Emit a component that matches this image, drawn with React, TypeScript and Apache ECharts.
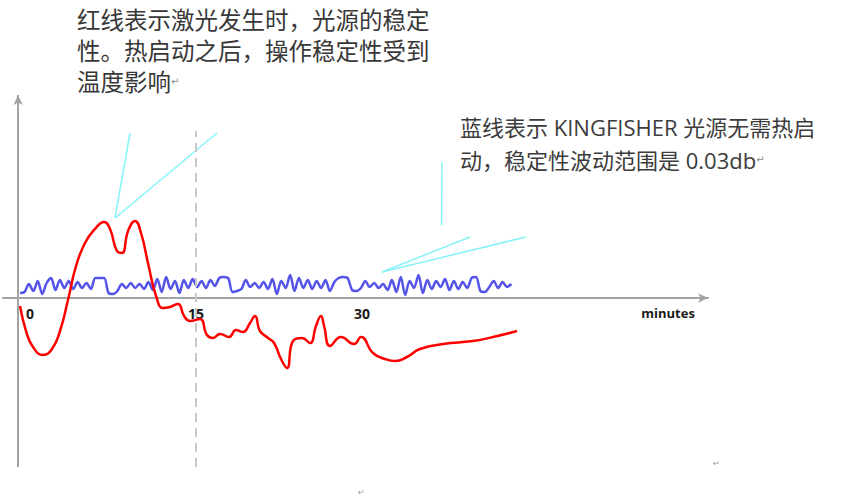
import React, { useEffect, useRef } from 'react';
import * as echarts from 'echarts';

// 红线：激光发生时光源的稳定性（时间单位：分钟，数值为相对变化）
const redTime = [-0.9, -0.36, 0.27, 1.17, 1.99, 2.71, 3.43, 4.16, 4.97, 5.87, 6.69, 7.23, 7.86, 8.31, 8.86, 9.49, 10.03, 10.66, 11.39, 12.02, 12.65, 13.37, 13.92, 14.46, 15.36, 15.99, 16.53, 17.17, 17.98, 18.61, 19.25, 19.88, 20.33, 20.78, 21.51, 22.05, 22.68, 23.22, 23.76, 24.58, 25.3, 25.84, 26.29, 26.57, 27.11, 28.1, 29.28, 29.91, 30.99, 32.08, 32.98, 34.06, 35.24, 37.32, 40.03, 41.84, 44.0];
const redValue = [-0.8, -3.3, -4.9, -5.7, -5.1, -3.3, -0.2, 3.2, 5.5, 6.9, 7.6, 6.9, 4.7, 4.5, 6.7, 7.7, 6.5, 3.5, 0.2, -1.0, -0.9, -0.6, -1.8, -2.3, -2.1, -3.7, -4.0, -3.6, -3.9, -3.2, -3.4, -2.5, -1.8, -3.3, -4.0, -4.5, -6.1, -7.0, -4.3, -4.0, -4.5, -2.8, -1.8, -2.8, -4.8, -3.9, -4.6, -3.9, -5.5, -6.1, -6.3, -5.9, -5.1, -4.6, -4.3, -3.9, -3.3];

// 蓝线：KINGFISHER 光源，每 0.4 分钟一个采样
const BLUE_T0 = -0.9;
const BLUE_DT = 0.4;
const blueValue = [
  0.5, 0.6, 1.4, 0.7, 1.7, 0.4, 1.5, 2.0, 0.8, 1.8, 1.0, 1.7, 0.9, 1.6, 1.0, 1.5, 0.9, 2.0, 2.0, 2.0,
  0.5, 0.4, 0.7, 1.4, 1.0, 1.5, 1.0, 1.4, 0.9, 1.6, 0.8, 1.9, 0.6, 2.1, 0.9, 1.7, 0.5, 1.8, 1.0, 1.9,
  1.1, 1.7, 1.0, 1.8, 1.2, 2.0, 2.1, 2.0, 0.6, 0.7, 0.9, 1.8, 1.1, 1.5, 1.0, 1.6, 0.9, 1.9, 0.4, 1.7,
  1.0, 2.3, 0.7, 2.0, 1.0, 1.8, 0.9, 1.7, 1.0, 1.8, 0.7, 1.6, 2.0, 2.1, 2.0, 0.8, 0.7, 1.0, 1.7, 1.1,
  1.5, 1.0, 1.4, 0.8, 1.8, 0.6, 2.1, 0.3, 1.7, 1.0, 2.3, 0.5, 1.8, 0.9, 1.7, 1.1, 1.9, 0.8, 1.7, 0.9,
  1.6, 1.0, 2.0, 2.1, 0.7, 0.6, 1.1, 1.7, 1.0, 1.6, 1.1, 1.4,
];

// 坐标轴刻度
const tickValues = [0, 15, 30];
const xUnitLabel = 'minutes';
const X_UNIT_AT = 57.65;
const DASH_AT = 15;
const Y_AXIS_AT = -1.08;
const X_MIN = -2.44;
const X_MAX = 61.26;
const Y_MIN = -16.9;
const Y_MAX = 20.3;

const noteLeft = '红线表示激光发生时，光源的稳定\n性。热启动之后，操作稳定性受到\n温度影响{r|↵}';
const noteRight = '蓝线表示 KINGFISHER 光源无需热启\n动，稳定性波动范围是 0.03db{r|↵}';

const App: React.FC = () => {
  const chartRef = useRef<HTMLDivElement | null>(null);

  useEffect(() => {
    if (!chartRef.current) return;
    const myChart = echarts.init(chartRef.current, null, { renderer: 'svg' });

    const red = redTime.map((t, i) => [t, redValue[i]]);
    const blue = blueValue.map((v, i) => [BLUE_T0 + i * BLUE_DT, v]);

    const axisGray = '#a3a3a3';
    const cyan = '#86f3f8';
    const textFont = "'Open Sans', 'Noto Sans CJK SC', sans-serif";
    const hidden = { show: false };

    const option: echarts.EChartsOption = {
      animation: false,
      backgroundColor: '#ffffff',
      grid: [
        // 绘图区
        { left: 3, right: 134, top: 95, bottom: 37, containLabel: false, outerBoundsMode: 'none' },
        // 横轴（位于零线处）
        { left: 3, right: 134, top: 95, bottom: 206, containLabel: false, outerBoundsMode: 'none' },
      ] as any,
      xAxis: [
        {
          type: 'value',
          gridIndex: 0,
          min: X_MIN,
          max: X_MAX,
          axisLine: hidden,
          axisTick: hidden,
          axisLabel: hidden,
          splitLine: hidden,
        },
        {
          type: 'value',
          gridIndex: 1,
          min: X_MIN,
          max: X_MAX,
          axisLine: {
            onZero: false,
            symbol: ['none', 'arrow'],
            symbolSize: [7, 10],
            lineStyle: { color: axisGray, width: 2 },
          },
          axisTick: hidden,
          splitLine: hidden,
          axisLabel: {
            customValues: [...tickValues, X_UNIT_AT],
            margin: 8,
            color: '#1a1a1a',
            fontFamily: "'Open Sans', sans-serif",
            fontWeight: 'bold',
            fontSize: 14,
            formatter: (v: number) => (v === X_UNIT_AT ? `{u|${xUnitLabel}}` : String(v)),
            rich: {
              u: { fontSize: 13, fontWeight: 'bold', color: '#1a1a1a', fontFamily: "'Open Sans', sans-serif" },
            },
          },
        },
      ] as any,
      yAxis: [
        {
          type: 'value',
          gridIndex: 0,
          min: Y_MIN,
          max: Y_MAX,
          axisLine: hidden,
          axisTick: hidden,
          axisLabel: hidden,
          splitLine: hidden,
        },
        {
          type: 'value',
          gridIndex: 1,
          min: 0,
          max: 1,
          axisLine: hidden,
          axisTick: hidden,
          axisLabel: hidden,
          splitLine: hidden,
        },
      ],
      series: [
        {
          type: 'line',
          xAxisIndex: 0,
          yAxisIndex: 0,
          data: blue,
          smooth: 0.3,
          showSymbol: false,
          silent: true,
          lineStyle: { color: '#5454e8', width: 2.5 },
          markLine: {
            silent: true,
            symbol: ['none', 'none'],
            label: { show: false },
            emphasis: { disabled: true },
            data: [
              [
                { coord: [Y_AXIS_AT, Y_MIN], lineStyle: { color: axisGray, width: 2, type: 'solid' } },
                { coord: [Y_AXIS_AT, Y_MAX], symbol: 'arrow', symbolSize: [7, 10] },
              ],
              [
                { coord: [DASH_AT, Y_MIN], lineStyle: { color: '#c9c9c9', width: 2, type: [9, 6] } },
                { coord: [DASH_AT, 16.7] },
              ],
            ],
          } as any,
        },
        {
          type: 'line',
          xAxisIndex: 0,
          yAxisIndex: 0,
          data: red,
          smooth: 0.5,
          showSymbol: false,
          silent: true,
          lineStyle: { color: '#ff0000', width: 2.5 },
        },
      ],
      graphic: [
        {
          type: 'text',
          left: 77,
          top: 4,
          silent: true,
          style: {
            text: noteLeft,
            fontFamily: textFont,
            fontSize: 23.5,
            lineHeight: 31,
            fill: '#383838',
            rich: { r: { fontSize: 10, fill: '#8a8a8a', fontFamily: 'DejaVu Sans' } },
          } as any,
        },
        {
          type: 'text',
          left: 460,
          top: 110,
          silent: true,
          style: {
            text: noteRight,
            fontFamily: textFont,
            fontSize: 22,
            lineHeight: 33,
            fill: '#3c3c3c',
            rich: { r: { fontSize: 10, fill: '#8a8a8a', fontFamily: 'DejaVu Sans' } },
          } as any,
        },
        // 标注引线
        { type: 'line', silent: true, shape: { x1: 115, y1: 218, x2: 130, y2: 133 }, style: { stroke: cyan, lineWidth: 1.5 } },
        { type: 'line', silent: true, shape: { x1: 115, y1: 218, x2: 217, y2: 133 }, style: { stroke: cyan, lineWidth: 1.5 } },
        { type: 'line', silent: true, shape: { x1: 442, y1: 162, x2: 441.5, y2: 225 }, style: { stroke: cyan, lineWidth: 1.5 } },
        { type: 'line', silent: true, shape: { x1: 382, y1: 272, x2: 470, y2: 237 }, style: { stroke: cyan, lineWidth: 1.5 } },
        { type: 'line', silent: true, shape: { x1: 382, y1: 272, x2: 526, y2: 237 }, style: { stroke: cyan, lineWidth: 1.5 } },
        // 段落标记
        { type: 'text', left: 713, top: 459, silent: true, style: { text: '↵', fontSize: 8, fill: '#9a9a9a', fontFamily: 'DejaVu Sans' } },
        { type: 'text', left: 358, top: 488, silent: true, style: { text: '↵', fontSize: 8, fill: '#9a9a9a', fontFamily: 'DejaVu Sans' } },
      ],
    };

    myChart.setOption(option);

    return () => {
      myChart.dispose();
    };
  }, []);

  return (
    <div
      ref={chartRef}
      style={{ position: 'fixed', left: 0, top: 0, width: 842, height: 504 }}
    ></div>
  );
};

export default App;
